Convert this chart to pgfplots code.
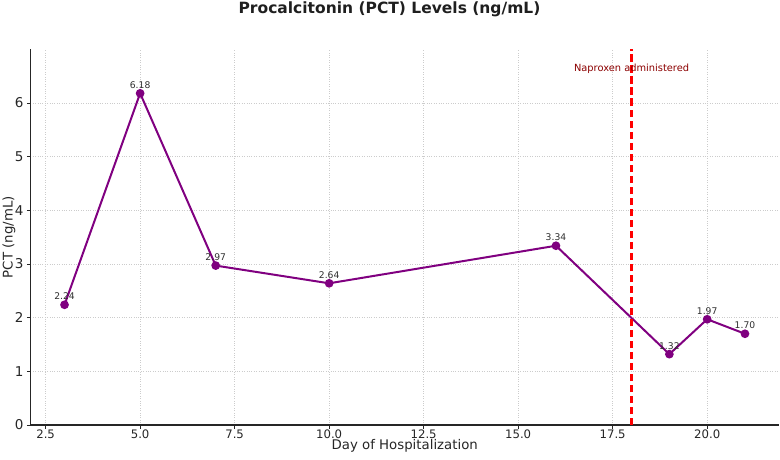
\documentclass[border=0pt]{standalone}
\usepackage{pgfplots}
\pgfplotsset{compat=1.18}
\usepackage{pgfplotstable}
\usepackage{fontspec}
\setmainfont{DejaVu Sans}
\definecolor{pctpurple}{HTML}{800080}
\definecolor{naprored}{HTML}{FF0000}
\definecolor{naprotext}{HTML}{8B0000}
\pgfplotstableread{
day pct label
3  2.24 2.24
5  6.18 6.18
7  2.97 2.97
10 2.64 2.64
16 3.34 3.34
19 1.32 1.32
20 1.97 1.97
21 1.70 1.70
}\pctdata
\begin{document}
\begin{tikzpicture}[x=1pt,y=1pt]
\useasboundingbox (0,0) rectangle (780,459);
\begin{axis}[
  at={(30.5pt,34pt)}, anchor=south west,
  scale only axis, width=748.5pt, height=375.7pt,
  xmin=2.1, xmax=21.9, ymin=0, ymax=7,
  axis lines*=left,
  axis line style={black!85, line width=1.1pt},
  tick align=outside, major tick length=3.5pt,
  tick style={black!85, line width=0.9pt},
  xtick={2.5,5,7.5,10,12.5,15,17.5,20},
  ytick={0,1,2,3,4,5,6},
  /pgf/number format/assume math mode=true,
  tick label style={text=black!85},
  xticklabel style={font=\fontsize{11.7}{13}\selectfont, inner sep=1pt, /pgf/number format/fixed, /pgf/number format/fixed zerofill, /pgf/number format/precision=1},
  yticklabel style={font=\fontsize{13.5}{15}\selectfont},
  grid=major,
  major grid style={dotted, line width=0.7pt, black!20},
  xlabel={Day of Hospitalization},
  ylabel={PCT (ng/mL)},
  label style={font=\fontsize{13.3}{15}\selectfont, text=black!85},
  xlabel style={at={(axis description cs:0.5,-0.0665)}, anchor=base, inner sep=0pt},
  ylabel style={at={(axis description cs:-0.0238,0.5)}, anchor=base},
  title={Procalcitonin (PCT) Levels (ng/mL)},
  title style={at={(axis description cs:0.4796,1.0958)}, anchor=base, yshift=-6pt, inner sep=0pt, font=\fontsize{15.5}{18}\selectfont\bfseries, text=black!88},
  clip=false,
]
\addplot[color=pctpurple, line width=2pt, mark=*, mark size=3.3pt, mark options={solid, fill=pctpurple},
  nodes near coords, point meta=explicit symbolic,
  every node near coord/.append style={anchor=base, yshift=5pt, font=\fontsize{9.2}{10}\selectfont, text=black!82}]
  table[x=day, y=pct, meta=label] {\pctdata};
\addplot[color=naprored, line width=2.2pt, dash pattern=on 7.5pt off 3.5pt] coordinates {(18,0) (18,7)};
\node[text=naprotext, font=\fontsize{9.85}{11}\selectfont] at (axis cs:18,6.63) {Naproxen administered};
\end{axis}
\end{tikzpicture}
\end{document}
